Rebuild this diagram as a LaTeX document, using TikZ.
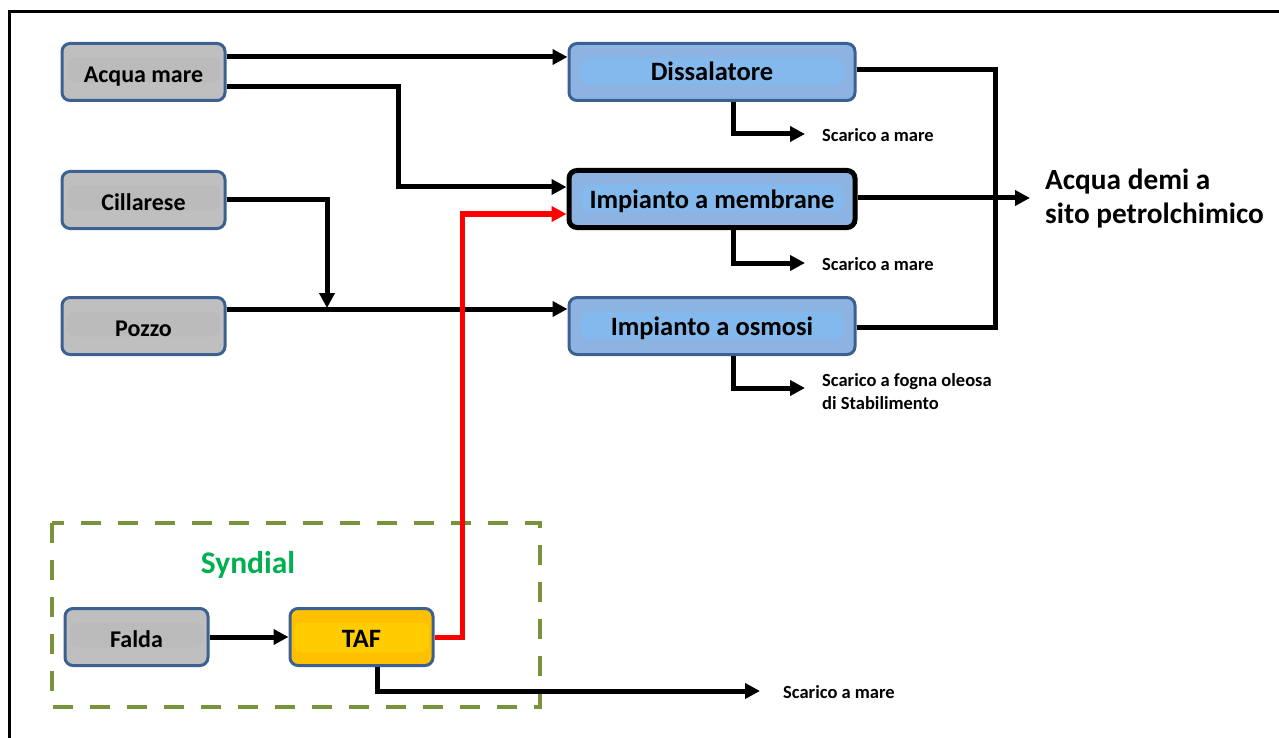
\documentclass[tikz,border=0pt]{standalone}
\usepackage{fontspec}
\setmainfont{Carlito}
\usetikzlibrary{arrows.meta,calc}
\definecolor{bord}{RGB}{60,96,145}
\definecolor{grayout}{RGB}{191,191,191}
\definecolor{grayin}{RGB}{187,187,187}
\definecolor{blueout}{RGB}{141,179,226}
\definecolor{bluein}{RGB}{131,185,236}
\definecolor{tafout}{RGB}{255,192,0}
\definecolor{tafin}{RGB}{255,204,0}
\definecolor{olive}{RGB}{119,147,60}
\definecolor{sgreen}{RGB}{0,176,80}
\tikzset{
  boxbase/.style={line width=3pt, rounded corners=8pt, inner sep=0pt,
    text height=18pt, text depth=0pt,
    font=\bfseries\fontsize{26.5}{30}\selectfont},
  graybox/.style={boxbase, draw=bord, fill=grayout, minimum width=163pt, minimum height=57pt,
    text height=21pt, font=\bfseries\fontsize{24}{28}\selectfont,
    path picture={\fill[grayin] ([xshift=5pt,yshift=-14pt]path picture bounding box.north west) rectangle ([xshift=-5pt,yshift=18pt]path picture bounding box.south east);}},
  bluebox/.style={boxbase, draw=bord, fill=blueout, minimum width=286pt, minimum height=57pt,
    path picture={\fill[bluein] ([xshift=12pt,yshift=-14pt]path picture bounding box.north west) rectangle ([xshift=-12pt,yshift=16pt]path picture bounding box.south east);}},
  tafbox/.style={boxbase, draw=bord, fill=tafout, minimum width=143pt, minimum height=57pt,
    text height=20pt,
    path picture={\fill[tafin] ([xshift=4pt,yshift=-14pt]path picture bounding box.north west) rectangle ([xshift=-4pt,yshift=13pt]path picture bounding box.south east);}},
  ln/.style={line width=5pt},
  conn/.style={line width=5pt, -{Triangle[length=15pt,width=15pt]}},
  redconn/.style={line width=5pt, red, -{Triangle[length=15pt,width=15pt]}},
  small/.style={font=\bfseries\fontsize{18.5}{23}\selectfont, anchor=west, inner sep=0pt, align=left},
}
\begin{document}
\begin{tikzpicture}[x=1pt,y=-1pt]
\useasboundingbox (0,0) rectangle (1279,738);
% outer frame
\draw[line width=3pt] (9,760) -- (9,12) -- (1300,12);
% Syndial group
\draw[olive, line width=4.5pt, dash pattern=on 20pt off 17pt] (52,523) rectangle (540,707);
\node[text=sgreen, font=\bfseries\fontsize{31.5}{36}\selectfont] (syn) at (248,565) {Syndial};
% source boxes
\node[graybox] (am) at (143.5,72) {Acqua mare};
\node[graybox] (cil) at (143.5,200) {Cillarese};
\node[graybox] (poz) at (143.5,326) {Pozzo};
\node[graybox, minimum width=143pt] (fal) at (136.5,637) {Falda};
\node[tafbox] (taf) at (361.5,637) {TAF};
% plants
\node[bluebox] (dis) at (712,72) {Dissalatore};
\node[bluebox, draw=black, line width=5pt] (mem) at (712,199) {Impianto a membrane};
\node[bluebox] (osm) at (712,326) {Impianto a osmosi};
% junctions
\coordinate (jr) at (995,198);
\coordinate (demi) at (1030,198);
\coordinate (s1) at (805,134);
\coordinate (s2) at (805,263);
\coordinate (s3) at (805,388);
\coordinate (s4) at (760,691);
% inputs
\draw[conn] (am.east |- 0,57) -- (dis.west |- 0,57);
\draw[conn] (am.east |- 0,87) -- (398,87) |- (mem.west |- 0,187);
\draw[conn] (cil.east |- 0,200) -| (327,308);
\draw[conn] (poz.east |- 0,309) -- (osm.west |- 0,309);
\draw[conn] (fal.east) -- (taf.west);
\draw[redconn] (taf.east) -- (462,637) |- (mem.west |- 0,214);
% outputs
\draw[ln] (dis.east |- 0,70) -| (jr);
\draw[ln] (osm.east |- 0,327) -| (jr);
\draw[conn] (mem.east |- 0,198) -- (demi);
\node[anchor=west, inner sep=0pt, align=left, font=\bfseries\fontsize{29.3}{34}\selectfont] (demit) at (1045,199) {Acqua demi a\\sito petrolchimico};
% discharges
\draw[conn] (dis.south -| 733,0) |- (s1);
\draw[conn] (mem.south -| 733,0) |- (s2);
\draw[conn] (osm.south -| 733,0) |- (s3);
\draw[conn] (taf.south -| 377,0) |- (s4);
\node[small] (t1) at (822,135) {Scarico a mare};
\node[small] (t2) at (822,264) {Scarico a mare};
\node[small] (t3) at (822,392) {Scarico a fogna oleosa\\di Stabilimento};
\node[small] (t4) at (783,692) {Scarico a mare};
\end{tikzpicture}
\end{document}
